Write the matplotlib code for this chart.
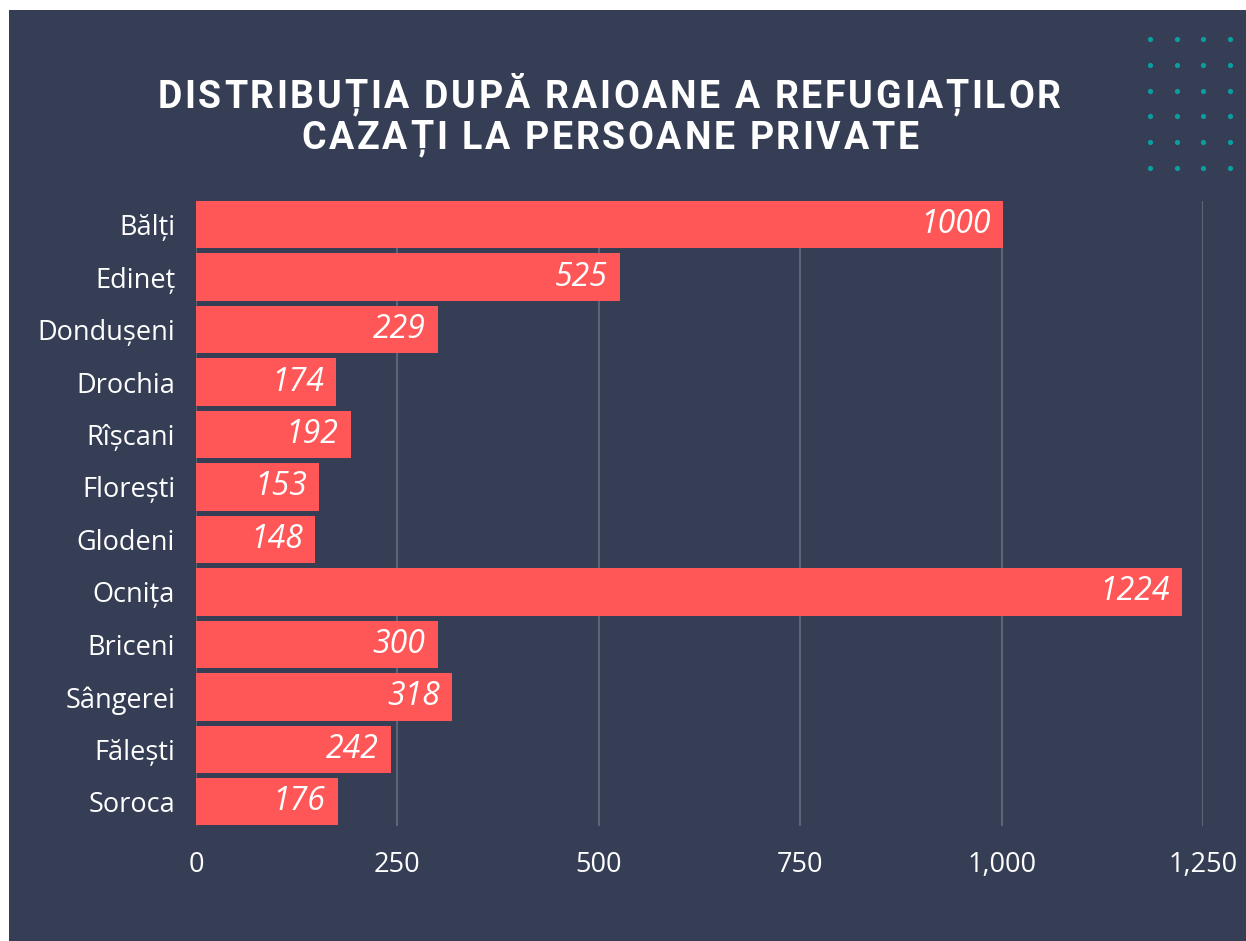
import matplotlib.pyplot as plt
import numpy as np
from matplotlib.patches import Rectangle
from matplotlib.ticker import FuncFormatter

raioane = ["Bălți", "Edineț", "Dondușeni", "Drochia", "Rîșcani", "Florești",
           "Glodeni", "Ocnița", "Briceni", "Sângerei", "Fălești", "Soroca"]
# bar lengths as drawn (Dondușeni bar is drawn longer than its label)
lungimi = [1002, 526, 300, 174, 192, 153, 148, 1224, 300, 318, 242, 176]
etichete = ["1000", "525", "229", "174", "192", "153", "148", "1224", "300", "318", "242", "176"]
xticks = [0, 250, 500, 750, 1000, 1250]
titlu = ["DISTRIBUȚIA DUPĂ RAIOANE A REFUGIAȚILOR", "CAZAȚI LA PERSOANE PRIVATE"]

BG = "#363e55"
BAR = "#ff5757"
GRID = "#5b6478"
DOT = "#0a9ea0"
W, H = 1246, 941

fig = plt.figure(figsize=(W / 100, H / 100), dpi=100)
fig.patch.set_facecolor("white")
fig.add_artist(Rectangle((9 / W, 0), 1 - 9 / W, (H - 10) / H,
                         transform=fig.transFigure, facecolor=BG, edgecolor="none", zorder=0))

# decorative dot grid, top right
dx, dy = np.meshgrid(np.arange(4) * 26.7 + 1150, np.arange(6) * 25.8 + 39)
deco = fig.add_axes([0, 0, 1, 1], facecolor="none")
deco.set_xlim(0, W)
deco.set_ylim(H, 0)
deco.axis("off")
deco.scatter(dx.ravel(), dy.ravel(), s=14, color=DOT, linewidths=0)


# title with letter spacing: place characters one by one
def spaced_line(text, cx, cy, spacing, **kw):
    renderer = fig.canvas.get_renderer()
    arts, widths = [], []
    for ch in text:
        t = deco.text(0, cy, ch, ha="left", va="center", **kw)
        w = t.get_window_extent(renderer).width if ch != " " else kw["fontsize"] * 0.34
        arts.append(t)
        widths.append(w)
    total = sum(widths) + spacing * (len(text) - 1)
    x = cx - total / 2
    for t, w in zip(arts, widths):
        t.set_x(x)
        x += w + spacing


tkw = dict(color="white", fontsize=27, fontweight="bold", family="Roboto")
spaced_line(titlu[0], 609, 97, 2.7, **tkw)
spaced_line(titlu[1], 610, 138, 2.7, **tkw)

ax = fig.add_axes([196 / W, 1 - 826 / H, (1203 - 196) / W, (826 - 201) / H])
ax.set_facecolor("none")
y = np.arange(len(raioane))
ax.barh(y, lungimi, height=0.9, color=BAR, zorder=3)
for yi, v, t in zip(y, lungimi, etichete):
    ax.text(v - 15, yi, t, ha="right", va="center", color="white", fontsize=23,
            style="italic", family="Open Sans", zorder=4)

ax.set_xlim(0, 1250)
ax.set_ylim(11.46, -0.45)
ax.set_xticks(xticks)
ax.xaxis.set_major_formatter(FuncFormatter(lambda v, p: f"{v:,.0f}"))
ax.set_yticks(y)
ax.set_yticklabels(raioane)
ax.grid(axis="x", color=GRID, linewidth=1.5, zorder=0)
ax.tick_params(length=0, colors="white", labelsize=19.5)
ax.tick_params(axis="y", pad=15)
ax.tick_params(axis="x", pad=18)
for lab in ax.get_xticklabels() + ax.get_yticklabels():
    lab.set_family("Open Sans")
for s in ax.spines.values():
    s.set_visible(False)

fig.savefig("out.png", dpi=100, facecolor=fig.get_facecolor())
